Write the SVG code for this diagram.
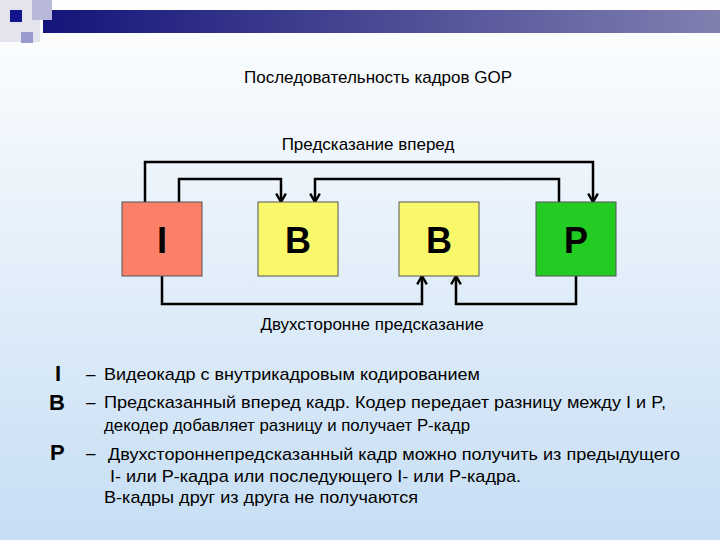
<svg xmlns="http://www.w3.org/2000/svg" width="720" height="540" viewBox="0 0 720 540">
<defs>
<linearGradient id="bg" x1="0" y1="0" x2="0" y2="1"><stop offset="0" stop-color="#ffffff"/><stop offset="1" stop-color="#c6def4"/></linearGradient>
<linearGradient id="bar" x1="0" y1="0" x2="1" y2="0"><stop offset="0" stop-color="#14147a"/><stop offset="1" stop-color="#8080b0"/></linearGradient>
<marker id="ah" markerWidth="12" markerHeight="12" refX="9" refY="5" orient="auto" markerUnits="userSpaceOnUse" viewBox="0 0 10 10"><path d="M2,1 L9,5 L2,9" fill="none" stroke="#000" stroke-width="2"/></marker>
</defs>
<style>
.box{stroke:#555;stroke-width:1}
.lbl{font-family:"Liberation Sans",Arial,sans-serif;font-weight:bold;font-size:36px;text-anchor:middle}
.t{font-family:"Liberation Sans",Arial,sans-serif;font-size:17px}
.k{font-family:"Liberation Sans",Arial,sans-serif;font-weight:bold;font-size:22px}
.c{fill:none;stroke:#000;stroke-width:2.5}
</style>
<rect width="720" height="540" fill="url(#bg)"/>
<rect x="0" y="0" width="40" height="42" fill="#e4e4ee"/>
<rect x="43" y="10" width="677" height="23" fill="url(#bar)"/>
<rect x="32" y="0" width="20" height="20" fill="#b8b8d8"/>
<rect x="10" y="10" width="12" height="12" fill="#14148a"/>
<rect x="21" y="32" width="12" height="11" fill="#9a9ace"/>
<text class="t" x="378" y="83" text-anchor="middle" font-size="19">Последовательность кадров GOP</text>
<text class="t" x="368" y="150" text-anchor="middle" font-size="15">Предсказание вперед</text>
<text class="t" x="372" y="330" text-anchor="middle" font-size="15">Двухсторонне предсказание</text>
<g id="connectors">
<path class="c" d="M145,202 V162 H593 V202" marker-end="url(#ah)"/>
<path class="c" d="M179,202 V179 H281 V202" marker-end="url(#ah)"/>
<path class="c" d="M559,202 V179 H315 V202" marker-end="url(#ah)"/>
<path class="c" d="M162,276 V304 H422 V276" marker-end="url(#ah)"/>
<path class="c" d="M576,276 V304 H456 V276" marker-end="url(#ah)"/>
</g>
<g id="nI"><rect class="box" x="122" y="202" width="80" height="74" fill="#fa806a"/><text class="lbl" x="162" y="253">I</text></g>
<g id="nB1"><rect class="box" x="258" y="202" width="80" height="74" fill="#f8f86a"/><text class="lbl" x="298" y="253">B</text></g>
<g id="nB2"><rect class="box" x="399" y="202" width="80" height="74" fill="#f8f86a"/><text class="lbl" x="439" y="253">B</text></g>
<g id="nP"><rect class="box" x="536" y="202" width="80" height="74" fill="#22cc22"/><text class="lbl" x="576" y="253">P</text></g>
<g id="legend">
<text class="k" x="55" y="381">I</text>
<text class="k" x="49" y="410">B</text>
<text class="k" x="50" y="460">P</text>
<text class="t" x="86" y="380">–</text>
<text class="t" x="86" y="408">–</text>
<text class="t" x="86" y="459">–</text>
<text class="t" x="104" y="380" textLength="376" lengthAdjust="spacingAndGlyphs">Видеокадр с внутрикадровым кодированием</text>
<text class="t" x="104" y="408" textLength="562" lengthAdjust="spacingAndGlyphs">Предсказанный вперед кадр. Кодер передает разницу между I и P,</text>
<text class="t" x="104" y="431" textLength="366" lengthAdjust="spacingAndGlyphs">декодер добавляет разницу и получает P-кадр</text>
<text class="t" x="108" y="460" textLength="572" lengthAdjust="spacingAndGlyphs">Двухстороннепредсказанный кадр можно получить из предыдущего</text>
<text class="t" x="110" y="482" textLength="411" lengthAdjust="spacingAndGlyphs">I- или P-кадра или последующего I- или P-кадра.</text>
<text class="t" x="104" y="503" textLength="314" lengthAdjust="spacingAndGlyphs">B-кадры друг из друга не получаются</text>
</g>
</svg>
